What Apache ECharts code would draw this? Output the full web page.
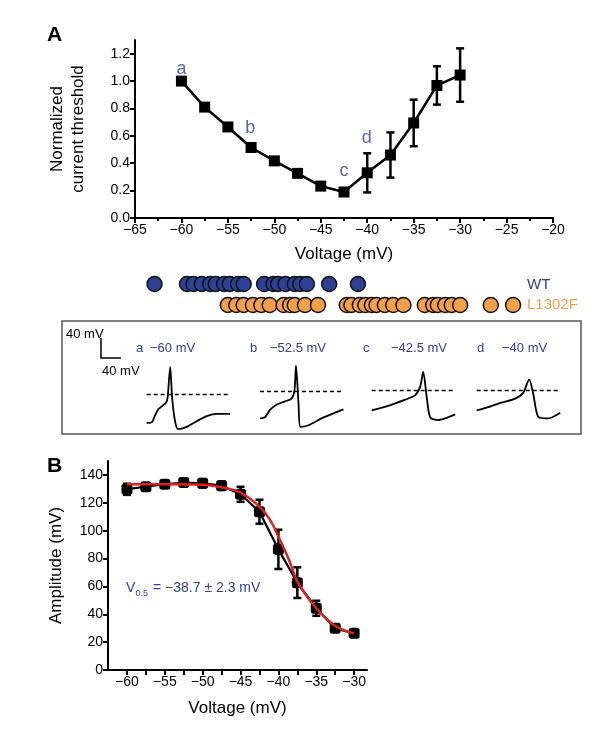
<!DOCTYPE html>
<html><head><meta charset="utf-8">
<script src="https://cdn.jsdelivr.net/npm/echarts@6/dist/echarts.min.js"></script>
<style>html,body{margin:0;padding:0;background:#fff}#c{width:607px;height:747px}</style>
</head><body><div id="c"></div>
<script>
// ---------- DATA ----------
const voltA = [-60, -57.5, -55, -52.5, -50, -47.5, -45, -42.5, -40, -37.5, -35, -32.5, -30];
const thresholdA = [1.0, 0.81, 0.665, 0.515, 0.417, 0.326, 0.233, 0.19, 0.33, 0.46, 0.694, 0.968, 1.044];
const thresholdErrA = [0, 0, 0, 0, 0, 0, 0, 0, 0.143, 0.165, 0.17, 0.14, 0.195];
const xTicksA = [-65, -60, -55, -50, -45, -40, -35, -30, -25, -20];
const yTicksA = [0, 0.2, 0.4, 0.6, 0.8, 1.0, 1.2];

const annotLetters = ['a', 'b', 'c', 'd'];
const annotVolt = [-60, -52.6, -42.5, -40.05];
const annotLevel = [1.09, 0.655, 0.34, 0.585];

const wtThresholds = [-62.9, -59.4, -58.7, -57.8, -56.9, -56.3, -55.4, -54.8, -53.9, -53.3, -51.1, -50.1, -49.6, -48.8, -47.8, -47.2, -46.5, -44.1, -41.0];
const mutThresholds = [-55.0, -54.1, -53.3, -52.3, -51.4, -50.5, -49.0, -48.3, -47.8, -46.7, -45.3, -42.2, -41.7, -40.8, -40.2, -39.5, -39.0, -38.1, -37.2, -36.1, -33.8, -32.9, -32.4, -31.6, -30.9, -30.0, -26.7, -24.3];
const groupNames = ['WT', 'L1302F'];

const traceTitles = ['\u221260 mV', '\u221252.5 mV', '\u221242.5 mV', '\u221240 mV'];
const traceTime = [
  [0, 10, 17, 23, 30, 39, 42, 47, 51, 57, 63, 80, 100, 120, 140, 167],
  [0, 10, 20, 33, 50, 63, 69, 72, 77, 81, 97, 123, 147, 167],
  [0, 33, 67, 87, 97, 103, 110, 117, 133, 147, 167],
  [0, 23, 50, 77, 93, 105, 113, 123, 143, 167]
];
const traceVm = [
  [-71, -70, -57, -47, -42, -35, -25, 28, -28, -69, -82, -78, -68, -59, -55, -55],
  [-63, -61, -48, -39, -33, -28, -13, 30, -36, -78, -75, -63, -54, -47],
  [-49, -41, -30, -22, -7, 19, -25, -61, -66, -63, -56],
  [-49, -43, -35, -28, -18, 6, -19, -60, -63, -53]
];
const traceThreshold = [-20, -15, -14, -14];

const voltB = [-60, -57.5, -55, -52.5, -50, -47.5, -45, -42.5, -40, -37.5, -35, -32.5, -30];
const ampB = [129.7, 131.6, 133.3, 134.5, 134, 132.3, 126.1, 113.6, 86.6, 62.7, 44.3, 29.9, 26.3];
const ampErrB = [4, 2, 2, 2.5, 3, 3, 5.4, 8.6, 14.1, 11, 5.4, 2.5, 2.5];
const fitVoltB = [-60, -55, -50, -47.5, -45, -42.5, -41.1, -40, -38.6, -37.5, -36.2, -35, -33.6, -32.5, -31.2, -30];
const fitAmpB = [133.3, 133.3, 133, 131.1, 127.3, 117.2, 107.7, 95.7, 79, 63.4, 52.6, 44.3, 36.4, 31.8, 28.2, 26.3];

// ---------- STYLE ----------
const FF = '"Liberation Sans", Arial, Helvetica, sans-serif';
const BLUE = '#2f3f93';
const ORANGE = '#f3a048';
const minus = v => String(v).replace('-', '\u2212');

function errBar(cap, lw) {
  return function (params, api) {
    const x = api.value(0), y = api.value(1), e = api.value(2);
    if (!e) return { type: 'group', children: [] };
    const hi = api.coord([x, y + e]), lo = api.coord([x, y - e]);
    const st = { stroke: '#000', lineWidth: lw };
    return { type: 'group', children: [
      { type: 'line', shape: { x1: hi[0], y1: hi[1], x2: lo[0], y2: lo[1] }, style: st },
      { type: 'line', shape: { x1: hi[0] - cap, y1: hi[1], x2: hi[0] + cap, y2: hi[1] }, style: st },
      { type: 'line', shape: { x1: lo[0] - cap, y1: lo[1], x2: lo[0] + cap, y2: lo[1] }, style: st }
    ] };
  };
}

const axLine = { show: true, onZero: false, lineStyle: { color: '#000', width: 2 } };
const axTick = { show: true, length: 5, lineStyle: { color: '#000', width: 2 } };
const axLabel = { color: '#000', fontSize: 14, fontFamily: FF, margin: 5 };
const nameStyle = { color: '#000', fontSize: 17, fontFamily: FF };

const traceLeft = [146.7, 260, 371.7, 476.7];

const grids = [
  { left: 135, top: 40, width: 418, height: 178 },
  { left: 135, top: 284, width: 418, height: 21 }
];
traceLeft.forEach(l => grids.push({ left: l, top: 360, width: 83.5, height: 79.4 }));
grids.push({ left: 108, top: 461, width: 259, height: 209 });
grids.forEach(g => { g.outerBoundsMode = 'none'; g.containLabel = false; });

const xAxes = [
  { type: 'value', gridIndex: 0, min: xTicksA[0], max: xTicksA[xTicksA.length - 1], interval: 5,
    axisLine: axLine, axisTick: axTick,
    minorTick: { show: true, splitNumber: 2, length: 3, lineStyle: { color: '#000', width: 2 } },
    axisLabel: Object.assign({}, axLabel, { formatter: minus }), splitLine: { show: false },
    name: 'Voltage (mV)', nameLocation: 'middle', nameGap: 28, nameTextStyle: nameStyle },
  { type: 'value', gridIndex: 1, min: -65, max: -20, show: false }
];
const yAxes = [
  { type: 'value', gridIndex: 0, min: 0, max: 1.3, interval: 0.2,
    axisLine: axLine, axisTick: axTick,
    axisLabel: Object.assign({}, axLabel, { formatter: v => v.toFixed(1), showMaxLabel: false }),
    splitLine: { show: false },
    name: 'Normalized\ncurrent threshold', nameLocation: 'middle', nameGap: 46,
    nameTextStyle: Object.assign({ lineHeight: 21 }, nameStyle) },
  { type: 'value', gridIndex: 1, min: 0, max: 1, show: false }
];
traceLeft.forEach((l, i) => {
  xAxes.push({ type: 'value', gridIndex: 2 + i, min: 0, max: 167, show: false });
  yAxes.push({ type: 'value', gridIndex: 2 + i, min: -100, max: 40, show: false });
});
xAxes.push({ type: 'value', gridIndex: 6, min: -62.5, max: -28.3, interval: 2.5,
  axisLine: axLine, axisTick: axTick,
  axisLabel: Object.assign({}, axLabel, { showMaxLabel: false, showMinLabel: false,
    formatter: v => (Math.abs(v - Math.round(v)) < 1e-6 && Math.round(v) % 5 === 0) ? minus(Math.round(v)) : '' }),
  splitLine: { show: false },
  name: 'Voltage (mV)', nameLocation: 'middle', nameGap: 30, nameTextStyle: nameStyle });
yAxes.push({ type: 'value', gridIndex: 6, min: 0, max: 150, interval: 20,
  axisLine: axLine, axisTick: axTick,
  axisLabel: Object.assign({}, axLabel, { showMaxLabel: false }), splitLine: { show: false },
  name: 'Amplitude (mV)', nameLocation: 'middle', nameGap: 43, nameTextStyle: nameStyle });

const series = [
  { type: 'line', xAxisIndex: 0, yAxisIndex: 0, data: voltA.map((v, i) => [v, thresholdA[i]]),
    symbol: 'rect', symbolSize: 11, showSymbol: true, itemStyle: { color: '#000' },
    lineStyle: { color: '#000', width: 2.5 }, z: 3 },
  { type: 'custom', xAxisIndex: 0, yAxisIndex: 0, renderItem: errBar(4, 2.5),
    data: voltA.map((v, i) => [v, thresholdA[i], thresholdErrA[i]]), encode: { x: 0, y: 1 }, z: 2 },
  { type: 'scatter', xAxisIndex: 0, yAxisIndex: 0, symbolSize: 0,
    data: annotVolt.map((v, i) => [v, annotLevel[i], annotLetters[i]]),
    label: { show: true, position: 'inside', formatter: p => p.data[2], color: BLUE, fontSize: 18, fontFamily: FF } },
  { type: 'scatter', name: groupNames[0], xAxisIndex: 1, yAxisIndex: 1, data: wtThresholds.map(v => [v, 1]),
    symbolSize: 15, itemStyle: { color: '#2c4193', opacity: 1, borderColor: '#111', borderWidth: 1.5 } },
  { type: 'scatter', name: groupNames[1], xAxisIndex: 1, yAxisIndex: 1, data: mutThresholds.map(v => [v, 0]),
    symbolSize: 15, itemStyle: { color: ORANGE, opacity: 1, borderColor: '#111', borderWidth: 1.5 } }
];
traceTime.forEach((ts, i) => {
  series.push({ type: 'line', xAxisIndex: 2 + i, yAxisIndex: 2 + i,
    data: ts.map((t, j) => [t, traceVm[i][j]]), showSymbol: false, smooth: 0.25,
    lineStyle: { color: '#000', width: 1.8 },
    markLine: { silent: true, symbol: ['none', 'none'], label: { show: false },
      lineStyle: { color: '#000', type: [4, 3], width: 1.3 },
      data: [[{ coord: [0, traceThreshold[i]] }, { coord: [165, traceThreshold[i]] }]] } });
});
series.push(
  { type: 'line', xAxisIndex: 6, yAxisIndex: 6, data: voltB.map((v, i) => [v, ampB[i]]),
    symbol: 'roundRect', symbolSize: 11, itemStyle: { color: '#000' },
    lineStyle: { color: '#000', width: 2.2 }, z: 3 },
  { type: 'custom', xAxisIndex: 6, yAxisIndex: 6, renderItem: errBar(4, 2.5),
    data: voltB.map((v, i) => [v, ampB[i], ampErrB[i]]), encode: { x: 0, y: 1 }, z: 2 },
  { type: 'line', xAxisIndex: 6, yAxisIndex: 6, data: fitVoltB.map((v, i) => [v, fitAmpB[i]]),
    showSymbol: false, smooth: 0.4, lineStyle: { color: '#e3211c', width: 2.5 }, z: 5 }
);

const txt = (x, y, text, size, color, extra) => Object.assign({ type: 'text', x: x, y: y,
  style: { text: text, fontSize: size, fontFamily: FF, fill: color, verticalAlign: 'middle', align: 'left' } }, extra || {});

const traceLetterX = [136, 250, 363, 477];
const traceTitleX = [150, 270, 391, 502];
const graphics = [
  { type: 'text', x: 47, y: 35, style: { text: 'A', fontSize: 21, fontWeight: 'bold', fontFamily: FF, fill: '#000', verticalAlign: 'middle' } },
  { type: 'text', x: 47, y: 466, style: { text: 'B', fontSize: 21, fontWeight: 'bold', fontFamily: FF, fill: '#000', verticalAlign: 'middle' } },
  txt(527, 285, groupNames[0], 15, BLUE),
  txt(527, 305, groupNames[1], 15, ORANGE),
  { type: 'rect', shape: { x: 62, y: 321, width: 519, height: 113 }, style: { fill: 'none', stroke: '#555', lineWidth: 1.5 } },
  { type: 'polyline', shape: { points: [[101, 338], [101, 358], [121, 358]] }, style: { fill: 'none', stroke: '#000', lineWidth: 1.5 } },
  txt(66, 334, '40 mV', 13, '#000'),
  txt(102, 371, '40 mV', 13, '#000'),
  txt(126, 588, 'V', 14, BLUE),
  txt(135.5, 594, '0.5', 9, BLUE),
  txt(153, 588, '= \u221238.7 \u00b1 2.3 mV', 14, BLUE)
];
traceTitles.forEach((t, i) => {
  graphics.push(txt(traceLetterX[i], 348, annotLetters[i], 13, BLUE));
  graphics.push(txt(traceTitleX[i], 348, t, 13, BLUE));
});

const chart = echarts.init(document.getElementById('c'), null, { renderer: 'canvas' });
chart.setOption({
  animation: false,
  backgroundColor: '#fff',
  grid: grids, xAxis: xAxes, yAxis: yAxes, series: series,
  graphic: { elements: graphics }
});
</script></body></html>
